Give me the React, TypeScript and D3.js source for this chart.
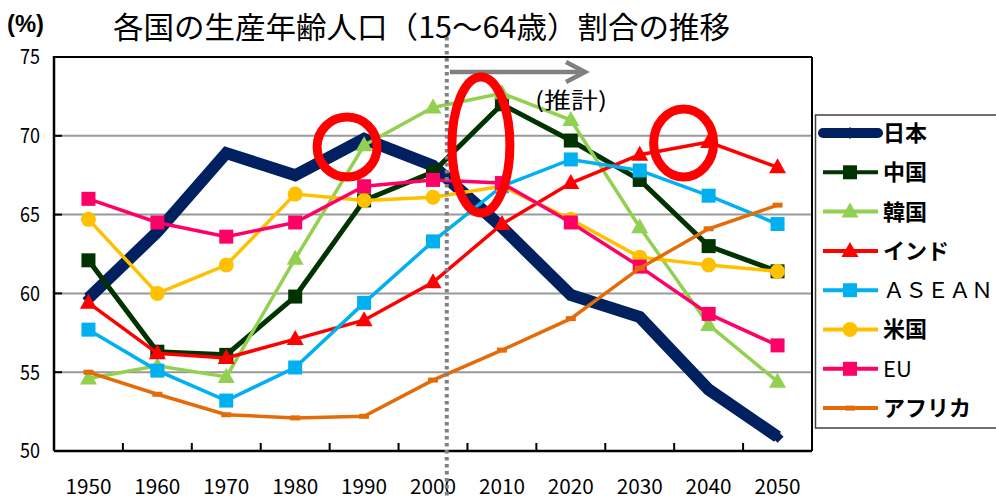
import React from 'react';
import * as d3 from 'd3';

const years = ['1950', '1960', '1970', '1980', '1990', '2000', '2010', '2020', '2030', '2040', '2050'];
const yTicks = [50, 55, 60, 65, 70, 75];

// 生産年齢人口割合 (%)
const japan = [59.7, 63.9, 68.9, 67.5, 69.8, 68.1, 64.2, 59.9, 58.5, 53.9, 50.9];
const china = [62.1, 56.3, 56.1, 59.8, 65.9, 67.7, 72.0, 69.7, 67.2, 63.0, 61.4];
const korea = [54.6, 55.4, 54.7, 62.2, 69.4, 71.8, 72.7, 71.0, 64.2, 58.0, 54.4];
const india = [59.4, 56.2, 55.9, 57.1, 58.3, 60.7, 64.4, 67.0, 68.8, 69.6, 68.0];
const asean = [57.7, 55.1, 53.2, 55.3, 59.4, 63.3, 66.8, 68.5, 67.8, 66.2, 64.4];
const usa = [64.7, 60.0, 61.8, 66.3, 65.9, 66.1, 66.8, 64.7, 62.3, 61.8, 61.4];
const eu = [66.0, 64.5, 63.6, 64.5, 66.8, 67.2, 67.0, 64.5, 61.7, 58.7, 56.7];
const africa = [55.0, 53.6, 52.3, 52.1, 52.2, 54.5, 56.4, 58.4, 61.6, 64.1, 65.6];

const seriesNames = ['日本', '中国', '韓国', 'インド', 'ＡＳＥＡＮ', '米国', 'EU', 'アフリカ'];

type Marker = 'diamond' | 'square' | 'triangle' | 'circle' | 'dash';
interface Series { name: string; values: number[]; color: string; width: number; marker: Marker; bold: boolean; }

const series: Series[] = [
  { name: seriesNames[0], values: japan, color: '#002060', width: 12, marker: 'diamond', bold: true },
  { name: seriesNames[1], values: china, color: '#003300', width: 5, marker: 'square', bold: true },
  { name: seriesNames[2], values: korea, color: '#92D050', width: 3.5, marker: 'triangle', bold: true },
  { name: seriesNames[3], values: india, color: '#FF0000', width: 3.5, marker: 'triangle', bold: true },
  { name: seriesNames[4], values: asean, color: '#00B0F0', width: 3.5, marker: 'square', bold: false },
  { name: seriesNames[5], values: usa, color: '#FFC000', width: 3.5, marker: 'circle', bold: true },
  { name: seriesNames[6], values: eu, color: '#FF0066', width: 3.5, marker: 'square', bold: false },
  { name: seriesNames[7], values: africa, color: '#E36C09', width: 3.5, marker: 'dash', bold: true },
];

const FONT = '"Noto Sans CJK JP", "Noto Sans", sans-serif';

function MarkerShape({ type, x, y, color }: { type: Marker; x: number; y: number; color: string }) {
  switch (type) {
    case 'square':
      return <rect x={x - 7} y={y - 7} width={14} height={14} fill={color} />;
    case 'circle':
      return <circle cx={x} cy={y} r={7.5} fill={color} />;
    case 'triangle':
      return <path d={`M${x},${y - 9} L${x + 8.5},${y + 6} L${x - 8.5},${y + 6} Z`} fill={color} />;
    case 'diamond':
      return <path d={`M${x},${y - 6} L${x + 6},${y} L${x},${y + 6} L${x - 6},${y} Z`} fill={color} />;
    case 'dash':
      return <rect x={x - 5} y={y - 2.5} width={10} height={5} fill={color} />;
  }
}

export default function App() {
  const W = 996, H = 499;
  const left = 54, right = 812, top = 57, bottom = 451;

  const x = d3.scaleBand<string>().domain(years).range([left, right]);
  const cx = (yr: string) => (x(yr) as number) + x.bandwidth() / 2;
  const y = d3.scaleLinear().domain([50, 75]).range([bottom, top]);

  const line = d3.line<number>()
    .x((_, i) => cx(years[i]))
    .y((d) => y(d));

  // 推計 boundary: between 2000 and 2010
  const splitX = cx('2000') + x.step() * 0.2;

  const legendX = 823, legendTop = 133, legendStep = 39.3;

  return (
    <div style={{ position: 'fixed', left: 0, top: 0 }}>
      <svg width={W} height={H} style={{ display: 'block', background: '#fff' }} fontFamily={FONT}>
        {/* title */}
        <text x={7} y={32} fontSize={24} fontWeight="bold" fontFamily='"Liberation Sans", sans-serif' textLength={37} lengthAdjust="spacingAndGlyphs">(%)</text>
        <text x={113} y={38} fontSize={30} textLength={617} lengthAdjust="spacingAndGlyphs">各国の生産年齢人口（15～64歳）割合の推移</text>

        {/* grid */}
        {yTicks.filter((t) => t > 50 && t < 75).map((t) => (
          <line key={t} x1={left} x2={right} y1={y(t)} y2={y(t)} stroke="#999" strokeWidth={2} />
        ))}
        {/* frame */}
        <line x1={left} x2={right} y1={top} y2={top} stroke="#000" strokeWidth={2} />
        <line x1={right} x2={right} y1={top} y2={bottom} stroke="#000" strokeWidth={2} />
        <line x1={left} x2={left} y1={top - 1} y2={bottom} stroke="#000" strokeWidth={2.5} />
        <line x1={left} x2={right} y1={bottom} y2={bottom} stroke="#000" strokeWidth={2.5} />

        {/* y ticks */}
        {yTicks.map((t) => (
          <g key={t}>
            <line x1={left} x2={left + 8} y1={y(t)} y2={y(t)} stroke="#000" strokeWidth={2} />
            <text x={20} y={y(t)} dy="0.35em" fontSize={21} textLength={20} lengthAdjust="spacingAndGlyphs">{t}</text>
          </g>
        ))}
        {/* x ticks */}
        {years.slice(1).map((yr) => (
          <line key={yr} x1={x(yr)} x2={x(yr)} y1={bottom - 8} y2={bottom} stroke="#000" strokeWidth={2} />
        ))}
        {years.map((yr) => (
          <text key={yr} x={cx(yr)} y={494} textAnchor="middle" fontSize={20} textLength={46} lengthAdjust="spacingAndGlyphs">{yr}</text>
        ))}

        {/* series */}
        {series.map((s) => (
          <g key={s.name}>
            <path d={line(s.values) || ''} fill="none" stroke={s.color} strokeWidth={s.width} strokeLinejoin="miter" />
            {s.values.map((v, i) => (
              <MarkerShape key={i} type={s.marker} x={cx(years[i])} y={y(v)} color={s.color} />
            ))}
          </g>
        ))}

        {/* 推計 divider and arrow */}
        <line x1={splitX} x2={splitX} y1={37} y2={H} stroke="#808080" strokeWidth={4} strokeDasharray="3.5 3.5" />
        <line x1={splitX + 3} x2={584} y1={72} y2={72} stroke="#808080" strokeWidth={4.5} />
        <path d="M566,62 L585,72 L566,82" fill="none" stroke="#808080" strokeWidth={4.5} />
        <text x={535} y={108} fontSize={22} textLength={72} lengthAdjust="spacingAndGlyphs">(推計)</text>

        {/* red highlight circles */}
        <ellipse cx={cx('1990') - 17} cy={147} rx={30} ry={30} fill="none" stroke="#FF0000" strokeWidth={9} />
        <ellipse cx={cx('2010') - 21} cy={145} rx={29} ry={68} fill="none" stroke="#FF0000" strokeWidth={9} />
        <ellipse cx={cx('2040') - 25} cy={143} rx={30} ry={34} fill="none" stroke="#FF0000" strokeWidth={9} />

        {/* legend */}
        <rect x={815.5} y={115} width={200} height={313} fill="#fff" stroke="#404040" strokeWidth={1.5} />
        {series.map((s, i) => {
          const ly = legendTop + i * legendStep;
          return (
            <g key={s.name}>
              <line x1={legendX} x2={878} y1={ly} y2={ly} stroke={s.color}
                strokeWidth={i === 0 ? 10 : 4} strokeLinecap={i === 0 ? 'round' : 'butt'} />
              <MarkerShape type={s.marker} x={850} y={ly} color={s.color} />
              <text x={883} y={ly} dy="0.36em" fontSize={22} fontWeight={s.bold ? 'bold' : 'normal'}>{s.name}</text>
            </g>
          );
        })}
      </svg>
    </div>
  );
}
